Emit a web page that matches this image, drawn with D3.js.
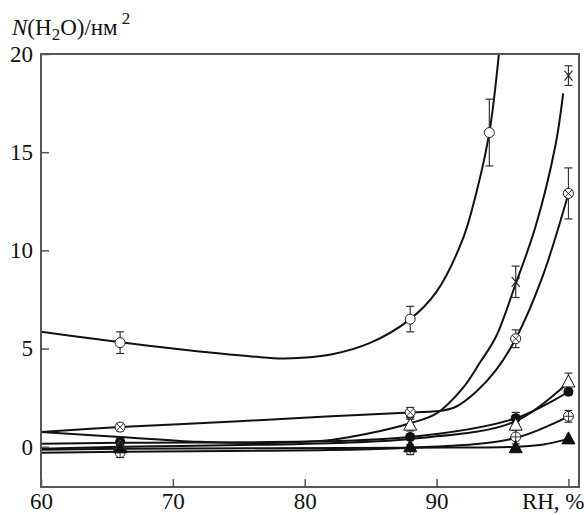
<!DOCTYPE html>
<html>
<head>
<meta charset="utf-8">
<script src="https://cdn.jsdelivr.net/npm/d3@7"></script>
<style>
  body { margin: 0; background: #fff; }
  svg { font-family: "Liberation Serif", "DejaVu Serif", serif; }
</style>
</head>
<body>
<svg id="chart"></svg>
<script>
// tick values
const xticks = [60, 70, 80, 90, 100];
const yticks = [0, 5, 10, 15, 20];

// measured points: x (RH, %), y, error
const open_circle   = { x: [66, 88, 94],      y: [5.3, 6.5, 16.0],        err: [0.55, 0.65, 1.7] };
const cross         = { x: [88, 96, 100],     y: [1.3, 8.4, 18.9],        err: [0.3, 0.8, 0.5] };
const cross_circle  = { x: [66, 88, 96, 100], y: [1.0, 1.75, 5.5, 12.9],  err: [0.2, 0.25, 0.45, 1.3] };
const filled_circle = { x: [66, 88, 96, 100], y: [0.25, 0.5, 1.45, 2.8],  err: [0.15, 0.15, 0.3, 0.15] };
const open_triangle = { x: [66, 88, 96, 100], y: [0.05, 1.1, 1.1, 3.3],   err: [0.1, 0.3, 0.5, 0.45] };
const plus_circle   = { x: [66, 88, 96, 100], y: [-0.3, -0.15, 0.5, 1.55], err: [0.25, 0.25, 0.35, 0.3] };
const filled_tri    = { x: [66, 88, 96, 100], y: [-0.05, 0.0, -0.05, 0.4], err: [0, 0, 0, 0] };

// fitted curves: [x, y]
const fit_open_circle  = [[60,5.85],[64,5.5],[68,5.15],[72,4.85],[76,4.6],[78.5,4.5],[82,4.7],[85,5.3],[88,6.5],[90,7.9],[92,10.6],[93,12.9],[94,16.0],[94.8,20.5]];
const fit_cross        = [[60,0.75],[66,0.5],[72,0.25],[78,0.2],[82,0.35],[85,0.7],[88,1.2],[90,1.7],[92,3.0],[93.3,4.3],[94.5,5.6],[96,8.3],[97.5,11.2],[99,15.3],[99.6,18.0]];
const fit_cross_circle = [[60,0.75],[66,1.0],[75,1.3],[82,1.55],[88,1.75],[90.5,1.85],[91.5,2.05],[93,2.8],[94.5,3.9],[96,5.5],[98,8.6],[100,12.9]];
const fit_filled_circle = [[60,0.15],[66,0.2],[88,0.5],[96,1.45],[100,2.8]];
const fit_open_triangle = [[60,-0.1],[66,0.0],[88,0.4],[96,1.3],[100,3.3]];
const fit_plus_circle  = [[60,-0.3],[66,-0.25],[88,-0.05],[96,0.45],[100,1.55]];
const fit_filled_tri   = [[60,-0.15],[66,-0.1],[88,-0.05],[96,0.0],[98,0.1],[100,0.4]];

const series = [
    { pts: open_circle,   fit: fit_open_circle,   mark: 'circle_open' },
    { pts: cross,         fit: fit_cross,         mark: 'cross' },
    { pts: cross_circle,  fit: fit_cross_circle,  mark: 'circle_x' },
    { pts: filled_circle, fit: fit_filled_circle, mark: 'circle_fill' },
    { pts: open_triangle, fit: fit_open_triangle, mark: 'tri_open' },
    { pts: plus_circle,   fit: fit_plus_circle,   mark: 'circle_plus' },
    { pts: filled_tri,    fit: fit_filled_tri,    mark: 'tri_fill' }
];

const width = 584, height = 515;
const margin = { top: 54, right: 5, bottom: 28, left: 41 };
const inner_width = width - margin.left - margin.right;
const inner_height = height - margin.top - margin.bottom;

const svg = d3.select('#chart')
    .attr('width', width)
    .attr('height', height);

const chart = svg.append('g')
    .attr('transform', `translate(${margin.left}, ${margin.top})`);

const xscale = d3.scaleLinear().domain([60, 100.8]).range([0, inner_width]);
const yscale = d3.scaleLinear().domain([-2.05, 20]).range([inner_height, 0]);

chart.append('clipPath').attr('id', 'clip')
    .append('rect')
    .attr('width', inner_width)
    .attr('height', inner_height);

// fitted lines
const line = d3.line()
    .x(d => xscale(d[0]))
    .y(d => yscale(d[1]))
    .curve(d3.curveCatmullRom.alpha(0.5));

chart.append('g')
    .attr('clip-path', 'url(#clip)')
    .selectAll('path')
    .data(series)
    .join('path')
    .attr('d', d => line(d.fit))
    .attr('fill', 'none')
    .attr('stroke', '#111')
    .attr('stroke-width', 2);

// error bars
series.forEach(s => {
    const g = chart.append('g');
    s.pts.x.forEach((xv, i) => {
        const e = s.pts.err[i];
        if (e <= 0) return;
        const px = xscale(xv);
        const y1 = yscale(s.pts.y[i] - e), y2 = yscale(s.pts.y[i] + e);
        g.append('line').attr('x1', px).attr('x2', px).attr('y1', y1).attr('y2', y2)
            .attr('stroke', '#333').attr('stroke-width', 1.2);
        [y1, y2].forEach(yy => {
            g.append('line').attr('x1', px - 4).attr('x2', px + 4).attr('y1', yy).attr('y2', yy)
                .attr('stroke', '#333').attr('stroke-width', 1.2);
        });
    });
});

// markers
function draw_mark(g, type) {
    const r = 5;
    if (type === 'circle_open' || type === 'circle_x' || type === 'circle_plus') {
        g.append('circle').attr('r', r).attr('fill', '#fff').attr('stroke', '#222').attr('stroke-width', 1);
        if (type === 'circle_x') {
            g.append('path').attr('d', `M${-3.5},${-3.5}L3.5,3.5M${-3.5},3.5L3.5,${-3.5}`)
                .attr('stroke', '#222').attr('stroke-width', 0.9);
        }
        if (type === 'circle_plus') {
            g.append('path').attr('d', `M0,${-r}V${r}M${-r},0H${r}`)
                .attr('stroke', '#222').attr('stroke-width', 0.9);
        }
    } else if (type === 'circle_fill') {
        g.append('circle').attr('r', r).attr('fill', '#111');
    } else if (type === 'cross') {
        g.append('path').attr('d', 'M-4,-5L4,5M-4,5L4,-5')
            .attr('stroke', '#222').attr('stroke-width', 1.1);
    } else if (type === 'tri_open' || type === 'tri_fill') {
        g.append('path').attr('d', 'M0,-7L6.5,5L-6.5,5Z')
            .attr('fill', type === 'tri_fill' ? '#111' : '#fff')
            .attr('stroke', '#111').attr('stroke-width', 1);
    }
}

series.forEach(s => {
    s.pts.x.forEach((xv, i) => {
        const g = chart.append('g')
            .attr('transform', `translate(${xscale(xv)}, ${yscale(s.pts.y[i])})`);
        draw_mark(g, s.mark);
    });
});

// axes and frame
const xaxis = d3.axisBottom(xscale)
    .tickValues(xticks)
    .tickSize(-8)
    .tickSizeOuter(0)
    .tickPadding(6)
    .tickFormat(d => d === 100 ? 'RH, %' : d);

const yaxis = d3.axisLeft(yscale)
    .tickValues(yticks)
    .tickSize(-8)
    .tickSizeOuter(0)
    .tickPadding(8);

const xaxis_group = chart.append('g')
    .attr('transform', `translate(0, ${inner_height})`)
    .call(xaxis);
const yaxis_group = chart.append('g').call(yaxis);

[xaxis_group, yaxis_group].forEach(g => {
    g.select('.domain').remove();
    g.selectAll('line').attr('stroke', '#555').attr('stroke-width', 1.5);
    g.selectAll('text')
        .attr('fill', '#111')
        .style('font-family', '"Liberation Serif", serif')
        .style('font-size', '23px');
});
xaxis_group.selectAll('.tick')
    .filter(d => d === 100)
    .select('text')
    .attr('text-anchor', 'end')
    .attr('x', width - margin.left - xscale(100));

chart.append('rect')
    .attr('width', inner_width)
    .attr('height', inner_height)
    .attr('fill', 'none')
    .attr('stroke', '#555')
    .attr('stroke-width', 2);

// y label
const title = svg.append('text')
    .attr('x', 12)
    .attr('y', 35)
    .style('font-size', '23px')
    .attr('fill', '#111');
title.append('tspan').style('font-style', 'italic').text('N');
title.append('tspan').text('(H');
title.append('tspan').attr('dy', 5).style('font-size', '17px').text('2');
title.append('tspan').attr('dy', -5).text('O)/нм');
title.append('tspan').attr('dy', -11).attr('dx', 4).style('font-size', '17px').text('2');
</script>
</body>
</html>
